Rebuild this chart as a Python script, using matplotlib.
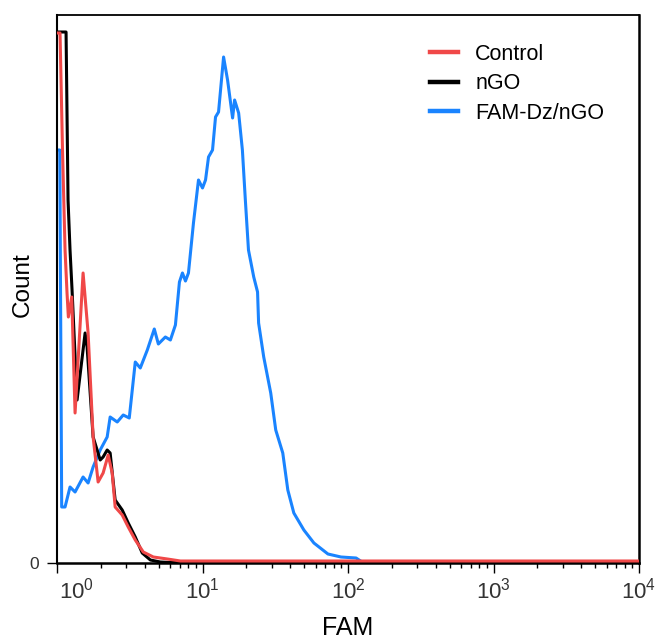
import matplotlib
matplotlib.use('Agg')
import matplotlib.pyplot as plt
import matplotlib.transforms as mtransforms
from matplotlib.ticker import LogLocator, FixedLocator, NullFormatter
from matplotlib.lines import Line2D

plt.rcParams['font.family'] = ['Liberation Sans', 'DejaVu Sans']
plt.rcParams['mathtext.fontset'] = 'custom'
plt.rcParams['mathtext.rm'] = 'Liberation Sans'
plt.rcParams['mathtext.it'] = 'Liberation Sans'
plt.rcParams['mathtext.bf'] = 'Liberation Sans:bold'

# ---------------- data ----------------
series_names = ['Control', 'nGO', 'FAM-Dz/nGO']
series_colors = ['#f04848', '#000000', '#1a84ff']

control_fam = [1.0, 1.049, 1.091, 1.136, 1.172, 1.197, 1.263, 1.331, 1.511, 1.636,
               1.771, 1.917, 2.075, 2.248, 2.395, 2.51, 2.807, 3.087, 3.451, 3.918,
               4.593, 5.736, 7.05, 10000]
control_count = [530, 530, 413, 313, 270, 246, 266, 150, 290, 230,
                 126, 81, 90, 108, 90, 56, 48, 36, 23, 11,
                 6, 4, 2, 2]

ngo_fam = [1.0, 1.154, 1.191, 1.229, 1.269, 1.374, 1.56, 1.61, 1.771, 1.981,
           2.075, 2.212, 2.319, 2.51, 2.807, 3.087, 3.451, 3.853, 4.383, 5.128,
           6.0, 10000]
ngo_count = [531, 531, 363, 313, 273, 163, 230, 216, 126, 103,
             106, 113, 110, 63, 53, 40, 26, 10, 3, 1,
             0.5, 0.5]

famdz_fam = [1.0, 1.045, 1.077, 1.136, 1.229, 1.331, 1.511, 1.636, 1.771, 1.981,
             2.212, 2.319, 2.594, 2.852, 3.138, 3.451, 3.736, 4.175, 4.663, 4.973,
             5.556, 6.016, 6.514, 6.942, 7.28, 7.637, 8.007, 8.667, 9.385, 10.0,
             10.49, 11.0, 11.72, 12.29, 12.89, 13.96, 14.87, 16.1, 16.62, 17.72,
             18.8, 19.7, 20.7, 22.5, 23.9, 24.3, 26.35, 29.44, 31.87, 35.62,
             38.58, 42.43, 49.73, 58.3, 72.79, 89.47, 113.6, 125]
famdz_count = [413, 413, 56, 56, 76, 71, 86, 80, 96, 113,
               126, 146, 141, 148, 145, 201, 195, 213, 234, 219,
               226, 223, 238, 281, 290, 282, 290, 340, 383, 375,
               383, 406, 413, 446, 451, 506, 483, 445, 463, 450,
               413, 363, 313, 286, 271, 240, 206, 170, 133, 110,
               73, 50, 33, 20, 9, 6, 5, 1]

xtick_values = [1, 10, 100, 1000, 10000]
xtick_labels = [r'$10^{0}$', r'$10^{1}$', r'$10^{2}$', r'$10^{3}$', r'$10^{4}$']
ytick_values = [0]
ytick_labels = ['0']

# ---------------- figure ----------------
fig = plt.figure(figsize=(6.56, 6.42), dpi=100)
ax = fig.add_axes([57 / 656, 1 - 563 / 642, 582 / 656, 548.5 / 642])

lw = 2.2
ax.plot(famdz_fam, famdz_count, color=series_colors[2], lw=lw, solid_joinstyle='round', zorder=2)
ax.plot(ngo_fam, ngo_count, color=series_colors[1], lw=lw, solid_joinstyle='round', zorder=3)
ax.plot(control_fam, control_count, color=series_colors[0], lw=lw, solid_joinstyle='round', zorder=4)

ax.set_xscale('log')
ax.set_xlim(1, 10000)
ax.set_ylim(0, 548.5)

ax.xaxis.set_major_locator(FixedLocator(xtick_values))
ax.set_xticklabels(xtick_labels)
ax.xaxis.set_minor_locator(LogLocator(base=10, subs=range(2, 10), numticks=20))
ax.xaxis.set_minor_formatter(NullFormatter())
ax.tick_params(axis='x', which='major', direction='out', length=7, width=1.0,
               labelsize=16, labelcolor='#333333', pad=3.5)
ax.tick_params(axis='x', which='minor', direction='out', length=3.6, width=1.0)

ax.set_yticks(ytick_values)
ax.set_yticklabels(ytick_labels)
ax.tick_params(axis='y', which='major', direction='out', length=7, width=1.0,
               labelsize=12.5, labelcolor='#333333', pad=6)

# shift the first x tick label to the right like the reference
first = ax.get_xticklabels()[0]
first.set_transform(first.get_transform() +
                    mtransforms.ScaledTranslation(20 / 100, 0, fig.dpi_scale_trans))

for side in ['left', 'right', 'top', 'bottom']:
    ax.spines[side].set_color('black')
ax.spines['top'].set_linewidth(1.3)
ax.spines['left'].set_linewidth(1.5)
ax.spines['right'].set_linewidth(1.8)
ax.spines['bottom'].set_linewidth(1.8)

ax.set_ylabel('Count', fontsize=17.5, va='center', ha='center')
ax.yaxis.set_label_coords(-0.0593, 0.507)
ax.set_xlabel('FAM', fontsize=18, va='center', ha='center')
ax.xaxis.set_label_coords(0.5, -0.1185)

handles = [Line2D([0], [0], color=series_colors[i], lw=3.2) for i in range(3)]
ax.legend(handles, series_names, loc='upper left', bbox_to_anchor=(0.641, 0.947),
          frameon=False, fontsize=15.5, handlelength=1.3, handletextpad=0.8,
          labelspacing=0.4, borderpad=0, borderaxespad=0)

fig.savefig('out.png', dpi=100)
